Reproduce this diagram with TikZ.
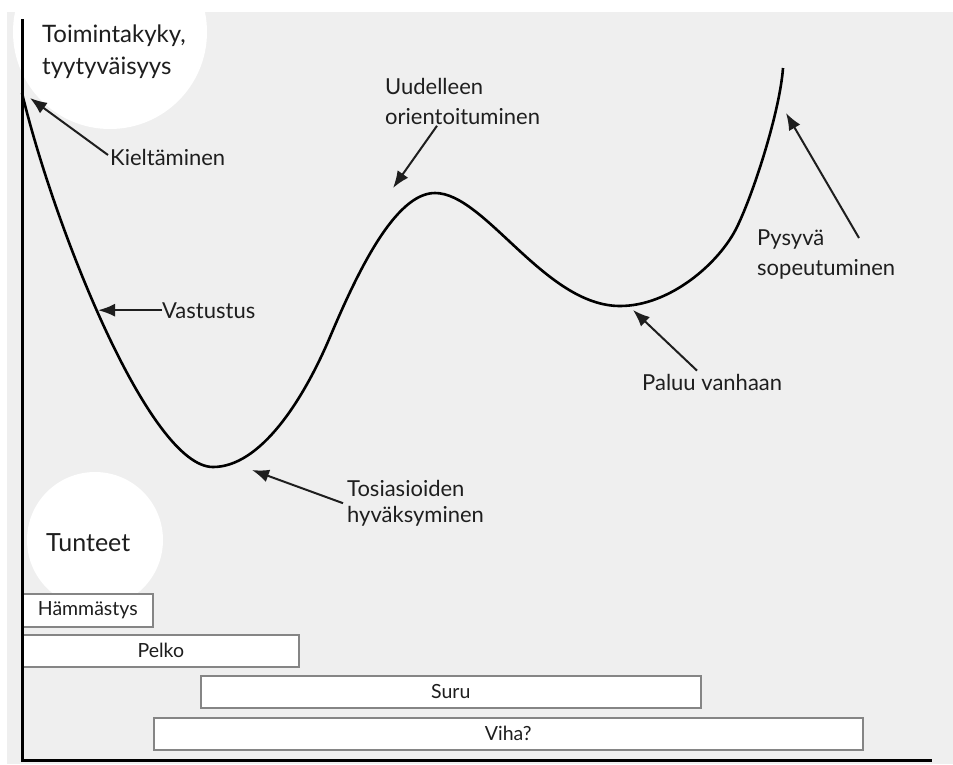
\documentclass[tikz,border=0pt]{standalone}
\usepackage{fontspec}
\setmainfont{Lato}
\usetikzlibrary{arrows.meta,calc}
\definecolor{bgc}{HTML}{EFEFEF}
\definecolor{txt}{HTML}{1E1E1E}
\definecolor{boxline}{HTML}{858585}
\tikzset{
  lbl/.style={inner sep=0pt, text=txt, font=\fontsize{22}{30}\selectfont, align=left},
  ttl/.style={inner sep=0pt, text=txt, font=\fontsize{24}{32}\selectfont, align=left},
  emobox/.style={draw=boxline, line width=1.6pt, fill=white, inner sep=0pt, text=txt,
    font=\fontsize{19.5}{22}\selectfont, anchor=north west},
  pointer/.style={line width=2pt, draw=txt, -{Latex[length=17pt,width=13pt]}},
  curve/.style={line width=2.6pt, draw=black},
  axis/.style={line width=3pt, draw=black}
}
\begin{document}
\begin{tikzpicture}[x=1pt,y=-1pt]
\useasboundingbox (0,0) rectangle (953,764);
\fill[white] (0,0) rectangle (953,764);
\fill[bgc] (7,12) rectangle (953,764);
% white discs behind titles
\begin{scope}
\clip (7,12) rectangle (953,764);
\fill[white] (110,32) circle (97);
\fill[white] (95,540) circle (68);
\end{scope}

% titles
\node[ttl, anchor=north west] (tk) at (42,25) {Toimintakyky,\\tyytyväisyys};
\node[ttl, anchor=base west, font=\fontsize{25}{30}\selectfont] (tun) at (46,551) {Tunteet};

% emotion boxes
\node[emobox, minimum width=130pt, minimum height=33pt] (ham) at (22,593) {Hämmästys};
\node[emobox, minimum width=276pt, minimum height=32pt] (pel) at (22,634) {Pelko};
\node[emobox, minimum width=500pt, minimum height=32pt] (sur) at (200,675) {Suru};
\node[emobox, minimum width=709pt, minimum height=32pt] (vih) at (153,717) {Viha?};

% axes
\coordinate (ytop) at (22,19);
\coordinate (orig) at (22,760);
\coordinate (xend) at (932,760);
\draw[axis] (ytop) -- (orig) -- (xend);

% the change curve
\coordinate (c0) at (22,93);
\coordinate (c1) at (213,467);
\coordinate (c2) at (330,337);
\coordinate (c3) at (435,193);
\coordinate (c4) at (620,306);
\coordinate (c5) at (737,227);
\coordinate (c6) at (783,68);
\draw[curve] (c0) .. controls (55,230) and (150,467) .. (c1)
  .. controls (260,467) and (302.7,401.4) .. (c2)
  .. controls (357.3,272.6) and (395,193) .. (c3)
  .. controls (485,193) and (545,306) .. (c4)
  .. controls (670,306) and (719.5,263) .. (c5)
  .. controls (754.5,191) and (780,110) .. (c6);

% labels
\node[lbl, anchor=base west] (kiel) at (110,165) {Kieltäminen};
\node[lbl, anchor=base west] (vast) at (162,318) {Vastustus};
\node[lbl, anchor=north west] (uud) at (385,78) {Uudelleen\\orientoituminen};
\node[lbl, anchor=north west, font=\fontsize{22}{26}\selectfont] (tos) at (347,480) {Tosiasioiden\\hyväksyminen};
\node[lbl, anchor=base west] (pal) at (642,390) {Paluu vanhaan};
\node[lbl, anchor=north west] (pys) at (757,230) {Pysyvä\\sopeutuminen};

% arrow tips on the curve
\coordinate (tKiel) at (30,98);
\coordinate (tVast) at (98,313);
\coordinate (tUud) at (393,188);
\coordinate (tTos) at (252,470);
\coordinate (tPal) at (633,310);
\coordinate (tPys) at (786,113);

\draw[pointer] ([shift={(-2pt,2pt)}]kiel.west) -- (tKiel);
\draw[pointer] (vast.west) -- (tVast |- vast.west);
\draw[pointer] ($(uud.south west)+(52pt,-1pt)$) -- (tUud);
\draw[pointer] ([xshift=-4pt]tos.west) -- (tTos);
\draw[pointer] ($(pal.north west)+(55pt,3pt)$) -- (tPal);
\draw[pointer] ($(pys.north west)+(102pt,-8pt)$) -- (tPys);
\end{tikzpicture}
\end{document}
